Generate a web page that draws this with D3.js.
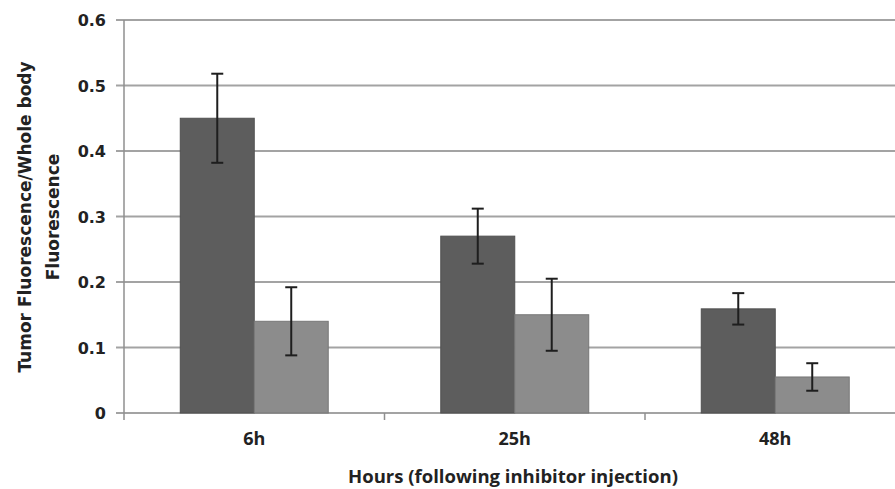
<!DOCTYPE html>
<html>
<head>
<meta charset="utf-8">
<script src="https://cdn.jsdelivr.net/npm/d3@7"></script>
<style>
  body { margin: 0; background: #fff; }
  svg { display: block; }
</style>
</head>
<body>
<script>
const categories = ["6h", "25h", "48h"];
const seriesNames = ["inhibitor", "control"];
const darkValues = [0.45, 0.27, 0.159];
const darkErrors = [0.068, 0.042, 0.024];
const lightValues = [0.14, 0.15, 0.055];
const lightErrors = [0.052, 0.055, 0.021];
const yTicks = [0, 0.1, 0.2, 0.3, 0.4, 0.5, 0.6];

const w = 895;
const h = 489;
const mLeft = 124, mTop = 20, mBottom = 413, mRight = 905.5;

const svg = d3.select("body")
  .append("svg")
  .attr("width", w)
  .attr("height", h);

const y = d3.scaleLinear().domain([0, 0.6]).range([mBottom, mTop]);
const x0 = d3.scaleBand().domain(categories).range([mLeft, mRight]);
const bw = x0.bandwidth();
const x1 = d3.scaleBand().domain(seriesNames).range([bw * 0.216, bw * 0.784]);

// gridlines
svg.append("g")
  .selectAll("line")
  .data(yTicks)
  .enter()
  .append("line")
  .attr("x1", mLeft - 8)
  .attr("x2", w)
  .attr("y1", d => y(d))
  .attr("y2", d => y(d))
  .attr("stroke", "#a3a3a3")
  .attr("stroke-width", 1.8);

// y axis line
svg.append("line")
  .attr("x1", mLeft).attr("x2", mLeft)
  .attr("y1", mTop).attr("y2", mBottom + 7)
  .attr("stroke", "#8f8f8f")
  .attr("stroke-width", 1.5);

// x ticks between categories
svg.append("g")
  .selectAll("line")
  .data(categories.slice(1))
  .enter()
  .append("line")
  .attr("x1", d => x0(d))
  .attr("x2", d => x0(d))
  .attr("y1", mBottom)
  .attr("y2", mBottom + 7)
  .attr("stroke", "#8f8f8f")
  .attr("stroke-width", 1.5);

// y tick labels
svg.append("g")
  .selectAll("text")
  .data(yTicks)
  .enter()
  .append("text")
  .attr("x", 106)
  .attr("y", d => y(d) + 6)
  .attr("text-anchor", "end")
  .attr("font-family", "DejaVu Sans")
  .attr("font-weight", "bold")
  .attr("font-size", 16)
  .attr("fill", "#222")
  .text(d => d === 0 ? "0" : d.toFixed(1));

const rows = categories.map((c, i) => [
  { cat: c, s: "inhibitor", v: darkValues[i], e: darkErrors[i], fill: "#5d5d5d", line: "#505050" },
  { cat: c, s: "control", v: lightValues[i], e: lightErrors[i], fill: "#8c8c8c", line: "#777" }
]).flat();

const bars = svg.append("g");
bars.selectAll("rect")
  .data(rows)
  .enter()
  .append("rect")
  .attr("x", d => x0(d.cat) + x1(d.s))
  .attr("width", x1.bandwidth())
  .attr("y", d => y(d.v))
  .attr("height", d => y(0) - y(d.v))
  .attr("fill", d => d.fill)
  .attr("stroke", d => d.line)
  .attr("stroke-width", 1);

// error bars
const eb = svg.append("g").attr("stroke", "#1e1e1e").attr("stroke-width", 2);
rows.forEach(d => {
  const cx = x0(d.cat) + x1(d.s) + x1.bandwidth() / 2;
  eb.append("line").attr("x1", cx).attr("x2", cx).attr("y1", y(d.v + d.e)).attr("y2", y(d.v - d.e));
  eb.append("line").attr("x1", cx - 6).attr("x2", cx + 6).attr("y1", y(d.v + d.e)).attr("y2", y(d.v + d.e));
  eb.append("line").attr("x1", cx - 6).attr("x2", cx + 6).attr("y1", y(d.v - d.e)).attr("y2", y(d.v - d.e));
});

// category labels
svg.append("g")
  .selectAll("text")
  .data(categories)
  .enter()
  .append("text")
  .attr("x", d => x0(d) + bw / 2)
  .attr("y", 445)
  .attr("text-anchor", "middle")
  .attr("font-family", "Open Sans")
  .attr("font-weight", "bold")
  .attr("font-size", 18)
  .attr("fill", "#222")
  .text(d => d);

svg.append("text")
  .attr("x", 513)
  .attr("y", 483)
  .attr("text-anchor", "middle")
  .attr("font-family", "Open Sans")
  .attr("font-weight", "bold")
  .attr("font-size", 18.5)
  .attr("fill", "#222")
  .text("Hours (following inhibitor injection)");

const yt = svg.append("text")
  .attr("transform", "translate(0,217) rotate(-90)")
  .attr("text-anchor", "middle")
  .attr("font-family", "DejaVu Sans")
  .attr("font-weight", "bold")
  .attr("font-size", 17)
  .attr("fill", "#222");
yt.append("tspan").attr("x", 0).attr("y", 31).text("Tumor Fluorescence/Whole body");
yt.append("tspan").attr("x", 0).attr("y", 59).text("Fluorescence");
</script>
</body>
</html>
